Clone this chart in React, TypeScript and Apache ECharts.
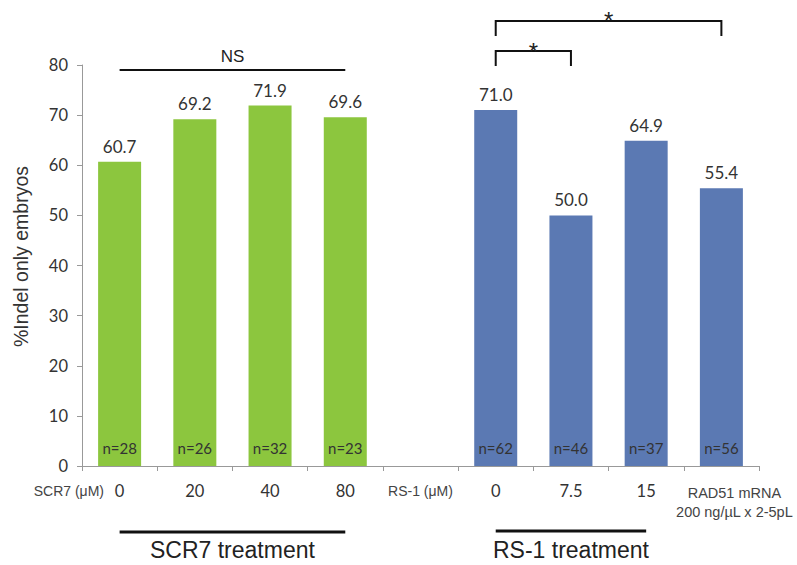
import React, { useEffect, useRef } from "react";
import * as echarts from "echarts";

const categories = ["0", "20", "40", "80", "RS-1 (μM)", "0", "7.5", "15", "RAD51 mRNA\n200 ng/µL x 2-5pL"];
const values: (number | null)[] = [60.7, 69.2, 71.9, 69.6, null, 71.0, 50.0, 64.9, 55.4];
const nLabels = ["n=28", "n=26", "n=32", "n=23", "", "n=62", "n=46", "n=37", "n=56"];
const groupOf = ["SCR7", "SCR7", "SCR7", "SCR7", "", "RS-1", "RS-1", "RS-1", "RS-1"];
const yTicks = { min: 0, max: 80, interval: 10 };
const yName = "%Indel only embryos";
const groupColors: Record<string, string> = { SCR7: "#8cc63e", "RS-1": "#5b79b3" };

const SANS = "Liberation Sans, Arial, sans-serif";
const CAL = "Lato, Open Sans, sans-serif";

export default function App() {
  const ref = useRef<HTMLDivElement>(null);
  useEffect(() => {
    if (!ref.current) return;
    const chart = echarts.init(ref.current, undefined, { renderer: "svg" });
    chart.setOption({
      animation: false,
      grid: { left: 82, right: 38, top: 65, bottom: 99, containLabel: false, outerBoundsMode: "none" },
      xAxis: {
        type: "category",
        data: categories,
        axisLine: { lineStyle: { color: "#999", width: 1 } },
        axisTick: { show: true, length: 5, lineStyle: { color: "#999" } },
        axisLabel: {
          interval: 0,
          margin: 17,
          color: "#333",
          fontSize: 16.5,
          fontFamily: CAL,
          lineHeight: 16,
          hideOverlap: false,
          formatter: (v: string, i: number) => {
            if (i === 4) return `{s|${v}}`;
            if (i === 8) return v.split("\n").map((l) => `{m|${l}}`).join("\n");
            return v;
          },
          rich: {
            s: { fontSize: 14, fontFamily: SANS, color: "#444", lineHeight: 16 },
            m: { fontSize: 14.5, fontFamily: SANS, color: "#444", lineHeight: 19, padding: [0, 0, 0, 26] },
          },
        },
      },
      yAxis: {
        type: "value",
        min: yTicks.min,
        max: yTicks.max,
        interval: yTicks.interval,
        name: yName,
        nameLocation: "middle",
        nameGap: 51,
        nameRotate: 90,
        nameTextStyle: { fontSize: 19.5, fontFamily: SANS, color: "#333", padding: [0, 0, 0, 18] },
        axisLine: { show: true, lineStyle: { color: "#999" } },
        axisTick: { show: true, length: 5, lineStyle: { color: "#999" } },
        axisLabel: { margin: 14, fontSize: 16.5, fontFamily: CAL, color: "#333" },
        splitLine: { show: false },
      },
      series: [
        {
          type: "bar",
          barWidth: 43,
          data: values.map((v, i) => ({
            value: v,
            itemStyle: { color: groupColors[groupOf[i]] || "#ccc" },
          })),
          label: {
            show: true,
            position: "top",
            distance: 7,
            fontSize: 17,
            fontFamily: CAL,
            color: "#333",
            formatter: (p: any) => (p.value == null ? "" : Number(p.value).toFixed(1)),
          },
        },
        {
          type: "bar",
          barWidth: 43,
          barGap: "-100%",
          silent: true,
          data: values.map((v) => ({ value: v, itemStyle: { color: "rgba(0,0,0,0)" } })),
          label: {
            show: true,
            position: "insideBottom",
            distance: 11,
            fontSize: 15,
            fontFamily: CAL,
            color: "#333",
            formatter: (p: any) => nLabels[p.dataIndex],
          },
        },
      ],
    });

    const px = (i: number) => (chart.convertToPixel({ gridIndex: 0 }, [i, 0]) as number[])[0];
    const x0 = px(0), x3 = px(3), x5 = px(5), x6 = px(6), x7 = px(7), x8 = px(8);
    const lineStyle = { stroke: "#111", lineWidth: 2 };
    const bracket = (a: number, b: number, top: number, bottom: number) => ({
      type: "polyline",
      shape: { points: [[a, bottom], [a, top], [b, top], [b, bottom]] },
      style: { ...lineStyle, fill: null },
    });
    const star = { text: "*", fontSize: 24, fontFamily: SANS, fill: "#222", align: "center", verticalAlign: "middle" };
    chart.setOption({
      graphic: [
        { type: "line", shape: { x1: x0, y1: 70, x2: x3, y2: 70 }, style: lineStyle },
        { type: "text", x: (x0 + x3) / 2, y: 56, style: { text: "NS", fontSize: 17, fontFamily: SANS, fill: "#222", align: "center", verticalAlign: "middle" } },
        bracket(x5, x8, 21, 36),
        { type: "text", x: (x5 + x8) / 2, y: 20, style: star },
        bracket(x5, x6, 51, 66),
        { type: "text", x: (x5 + x6) / 2, y: 51, style: star },
        { type: "text", x: 104, y: 491, style: { text: "SCR7 (μM)", fontSize: 14, fontFamily: SANS, fill: "#444", align: "right", verticalAlign: "middle" } },
        { type: "line", shape: { x1: x0, y1: 532, x2: x3, y2: 532 }, style: { stroke: "#111", lineWidth: 3 } },
        { type: "text", x: (x0 + x3) / 2, y: 550, style: { text: "SCR7 treatment", fontSize: 23, fontFamily: SANS, fill: "#222", align: "center", verticalAlign: "middle" } },
        { type: "line", shape: { x1: x5, y1: 531, x2: x7, y2: 531 }, style: { stroke: "#111", lineWidth: 3 } },
        { type: "text", x: (x5 + x7) / 2, y: 550, style: { text: "RS-1 treatment", fontSize: 23, fontFamily: SANS, fill: "#222", align: "center", verticalAlign: "middle" } },
      ],
    });
    return () => chart.dispose();
  }, []);
  return (
    <div
      ref={ref}
      style={{ position: "fixed", left: 0, top: 0, width: 797, height: 565, background: "#fff" }}
    />
  );
}
